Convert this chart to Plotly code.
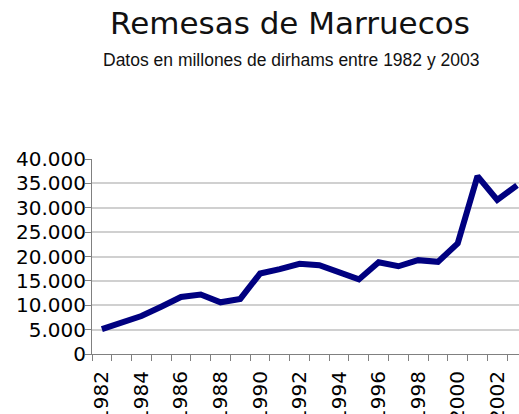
import plotly.graph_objects as go

years = list(range(1982, 2004))
remesas = [5100, 6600, 7800, 9700, 11700, 12200, 10600, 11300, 16500, 17400,
           18500, 18200, 16700, 15300, 18800, 18000, 19250, 18900, 22700, 36500,
           31600, 34600]
label_years = list(range(1982, 2003, 2))
y_ticks = list(range(0, 40001, 5000))

title_text = "Remesas de Marruecos"
subtitle_text = "Datos en millones de dirhams entre 1982 y 2003"

W, H = 519, 414
L, R, T, B = 92, 0, 159, 414 - 354
plot_w = W - L - R
plot_h = H - T - B

def px_x(p):
    return (p - L) / plot_w

def px_y(p):
    return (H - B - p) / plot_h

axis_gray = "#808080"

fig = go.Figure()
fig.add_trace(go.Scatter(
    x=years, y=remesas, mode="lines",
    line=dict(color="#000080", width=6),
    hoverinfo="skip", showlegend=False,
))

fig.update_layout(
    width=W, height=H,
    margin=dict(l=L, r=R, t=T, b=B, pad=0, autoexpand=False),
    paper_bgcolor="white", plot_bgcolor="white",
    separators=",.",
    font=dict(family="DejaVu Sans", color="black"),
    annotations=[
        dict(text=title_text, xref="paper", yref="paper",
             x=px_x(290), y=px_y(23), xanchor="center", yanchor="middle",
             showarrow=False, font=dict(family="DejaVu Sans", size=31, color="#111111")),
        dict(text=subtitle_text, xref="paper", yref="paper",
             x=px_x(291), y=px_y(60), xanchor="center", yanchor="middle",
             showarrow=False,
             font=dict(family="Liberation Sans", size=17.5, color="#111111")),
    ],
)

fig.update_xaxes(
    range=[1981.5, 2003.1],
    tickmode="array", tickvals=label_years, ticktext=[str(y) for y in label_years],
    tickangle=-90, ticks="", ticklabelstandoff=8,
    tickfont=dict(family="DejaVu Sans", size=20, color="black"),
    showgrid=False, zeroline=False, automargin=False,
    showline=True, linecolor=axis_gray, linewidth=1,
    minor=dict(tick0=1981.5, dtick=1, ticks="outside", ticklen=6,
               tickcolor=axis_gray, tickwidth=1, showgrid=False),
    fixedrange=True,
)

fig.update_yaxes(
    range=[0, 40000],
    tickmode="array", tickvals=y_ticks, tickformat=",d",
    ticks="outside", ticklen=6, tickcolor=axis_gray, tickwidth=1,
    ticklabelstandoff=-5,
    tickfont=dict(family="DejaVu Sans", size=20, color="black"),
    showgrid=True, gridcolor="#d0d0d0", gridwidth=1.5,
    zeroline=False, automargin=False,
    showline=True, linecolor=axis_gray, linewidth=1,
    fixedrange=True,
)

fig.write_html(
    "out.html",
    config={"displayModeBar": False},
    post_script="document.body.style.margin='0';document.body.style.overflow='hidden';",
)
